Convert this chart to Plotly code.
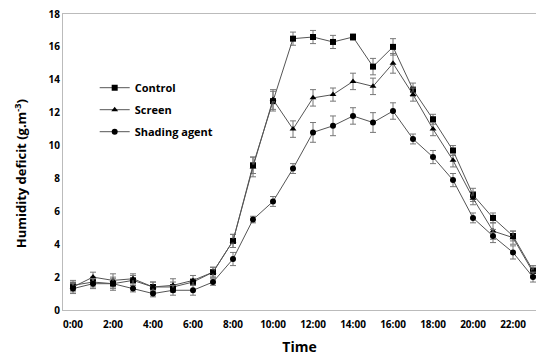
import plotly.graph_objects as go

hours = list(range(24))
tick_vals = list(range(0, 24, 2))
tick_text = [f"{h}:00" for h in tick_vals]

control = [1.5, 1.7, 1.6, 1.8, 1.4, 1.4, 1.7, 2.3, 4.2, 8.8, 12.7, 16.5, 16.6, 16.3, 16.6, 14.8, 16.0, 13.4, 11.6, 9.7, 7.0, 5.6, 4.5, 2.4]
screen = [1.4, 2.0, 1.8, 1.9, 1.4, 1.5, 1.8, 2.3, 4.2, 8.7, 12.8, 11.0, 12.9, 13.1, 13.9, 13.6, 15.0, 13.1, 11.0, 9.1, 6.8, 4.8, 4.4, 2.3]
shading = [1.3, 1.6, 1.6, 1.3, 1.0, 1.2, 1.2, 1.7, 3.1, 5.5, 6.6, 8.6, 10.8, 11.2, 11.8, 11.4, 12.1, 10.4, 9.3, 7.9, 5.6, 4.5, 3.5, 2.0]

control_err = [0.3, 0.3, 0.4, 0.3, 0.3, 0.3, 0.2, 0.3, 0.4, 0.5, 0.6, 0.4, 0.4, 0.4, 0.2, 0.5, 0.5, 0.4, 0.3, 0.3, 0.4, 0.3, 0.3, 0.3]
screen_err = [0.3, 0.3, 0.4, 0.3, 0.3, 0.4, 0.3, 0.3, 0.4, 0.6, 0.6, 0.5, 0.5, 0.4, 0.5, 0.5, 0.6, 0.4, 0.4, 0.4, 0.4, 0.5, 0.4, 0.3]
shading_err = [0.3, 0.3, 0.3, 0.2, 0.2, 0.3, 0.3, 0.2, 0.4, 0.2, 0.3, 0.3, 0.6, 0.6, 0.5, 0.6, 0.5, 0.3, 0.4, 0.4, 0.3, 0.4, 0.4, 0.3]

series = [
    ("Control", control, control_err, "square", 6),
    ("Screen", screen, screen_err, "triangle-up", 6),
    ("Shading agent", shading, shading_err, "circle", 6),
]

fig = go.Figure()
for name, vals, err, sym, sz in series:
    fig.add_trace(go.Scatter(
        x=hours, y=vals, name=name, mode="lines+markers", legendgroup=name,
        line=dict(color="#555555", width=1),
        marker=dict(symbol=sym, size=sz, color="black"),
        error_y=dict(type="data", array=err, visible=True, color="#777777", thickness=1, width=3),
    ))

font_family = "Open Sans, Lato, sans-serif"
fig.update_layout(
    width=536, height=358,
    margin=dict(l=63, r=0, t=14, b=48),
    paper_bgcolor="white", plot_bgcolor="white",
    font=dict(family=font_family, color="black", size=11),
    showlegend=True,
    legend=dict(x=0.067, y=0.8, xanchor="left", yanchor="top",
                bgcolor="rgba(0,0,0,0)",
                font=dict(size=11, family=font_family, color="black", weight="bold"),
                itemwidth=30, tracegroupgap=3, traceorder="grouped"),
    xaxis=dict(range=[-0.5, 23.15], tickvals=tick_vals, ticktext=tick_text,
               showgrid=False, zeroline=False, showline=True, linecolor="#bbbbbb", linewidth=1,
               mirror=True, ticks="", ticklabelstandoff=5,
               tickfont=dict(size=10, family=font_family, weight="bold"),
               title=dict(text="<b>Time</b>", font=dict(size=14), standoff=12)),
    yaxis=dict(range=[0, 18], dtick=2, showgrid=False, zeroline=False, showline=True,
               linecolor="#bbbbbb", linewidth=1, mirror=True, ticks="",
               tickfont=dict(size=10, family=font_family, weight="bold")),
    annotations=[dict(text="<b>Humidity deficit (g.m<sup>-3</sup>)</b>", textangle=-90,
                      xref="paper", yref="paper", x=-0.09, y=0.46,
                      xanchor="center", yanchor="middle", showarrow=False,
                      font=dict(size=13, family=font_family, color="black"))],
)

fig.write_html("out.html")
